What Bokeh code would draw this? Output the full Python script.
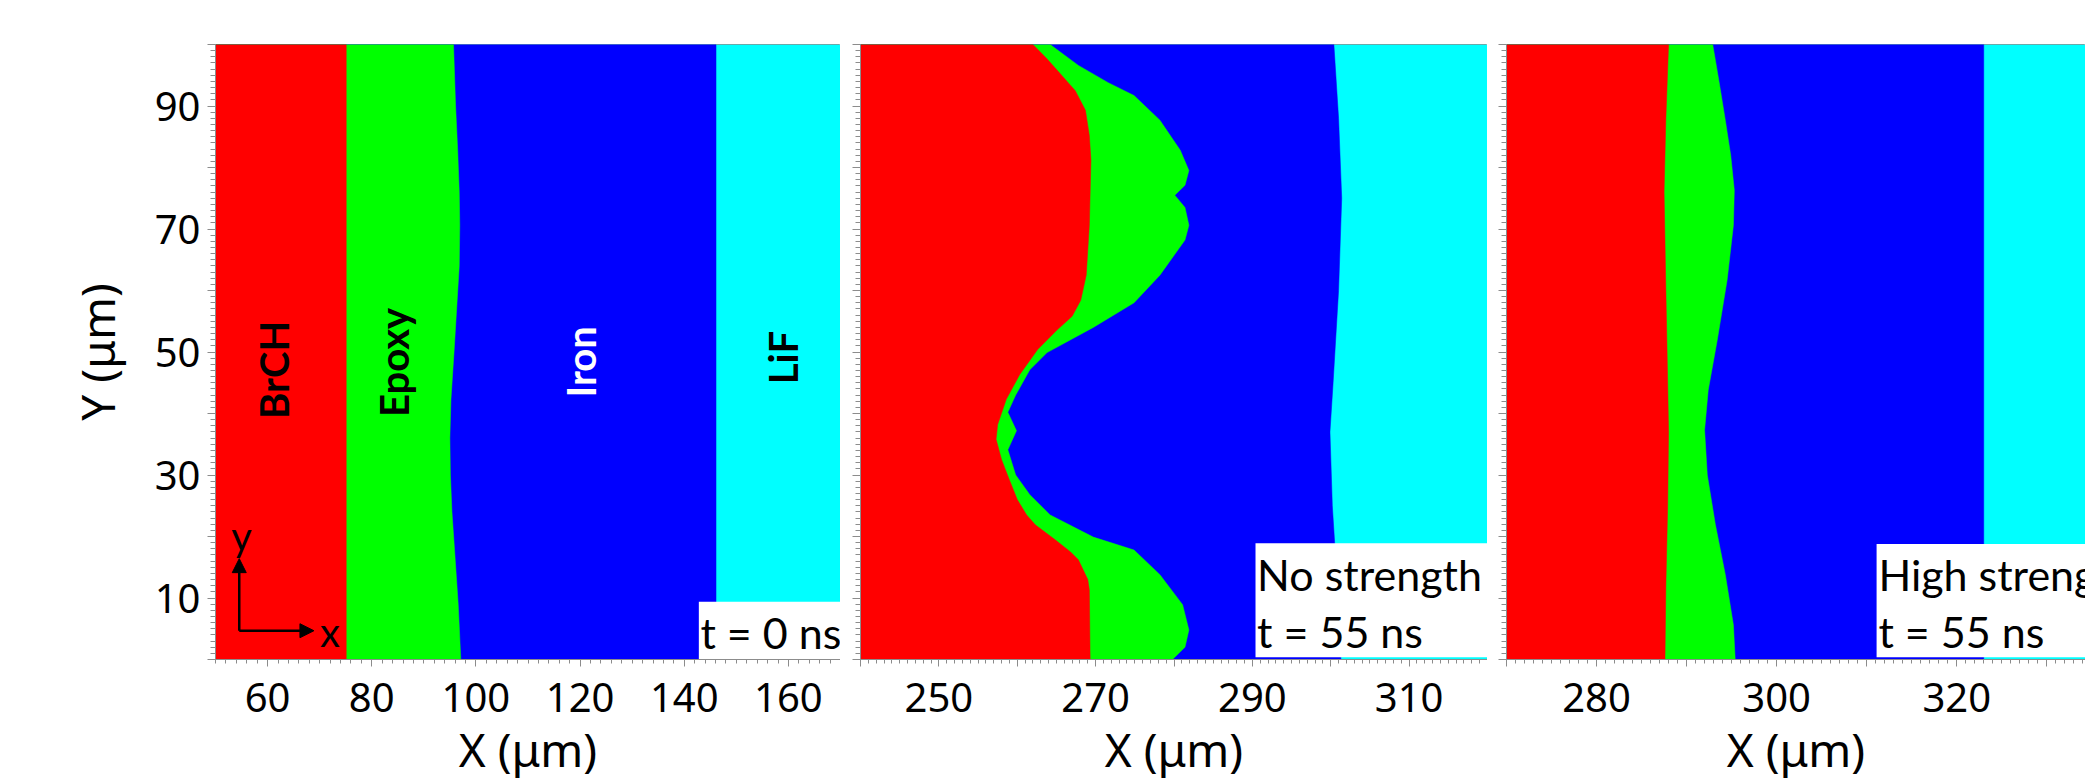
from bokeh.plotting import figure
from bokeh.layouts import row
from bokeh.models import (Range1d, FixedTicker, Arrow, NormalHead,
                          CustomJSTickFormatter, ColumnDataSource)
from bokeh.core.properties import value
from bokeh.embed import file_html
from bokeh.resources import INLINE

# ---------------- data ----------------
RED, GREEN, BLUE, CYAN = "#FF0000", "#00FF00", "#0000FF", "#00FFFF"

# Panel 1: t = 0 ns  (interface x positions, listed from y=100 down to y=0)
p1_xrange = (50, 170)
p1_red_y = [100, 0]
p1_red_x = [75.1, 75.1]
p1_green_y = [100, 90, 82.8, 76, 70.6, 64, 58.4, 50, 42.2, 36, 30.0, 24, 17.8, 9, 0]
p1_green_x = [95.7, 96.1, 96.5, 96.8, 96.9, 96.8, 96.4, 95.8, 95.2, 95.0, 95.1, 95.4, 95.9, 96.6, 97.1]
p1_blue_y = [100, 0]
p1_blue_x = [146.1, 146.1]

# Panel 2: No strength, t = 55 ns
p2_xrange = (240, 320)
p2_red_y = [100, 97.8, 95.8, 92.5, 89.3, 85.2, 81.2, 70.6, 62.5, 58.4, 55.8, 53.6, 50.4, 46.3,
            42.3, 38.2, 35.8, 32.5, 29.2, 26.0, 23.5, 21.9, 19.5, 17.5, 16.2, 13.0, 11.3, 0]
p2_red_x = [262.0, 263.7, 265.1, 267.4, 268.7, 269.2, 269.4, 269.2, 268.8, 268.1, 267.0, 265.1, 262.6, 260.3,
            258.6, 257.5, 257.3, 258.0, 259.0, 260.0, 261.2, 262.3, 264.8, 266.8, 267.8, 269.0, 269.2, 269.3]
p2_green_y = [100, 96.6, 93.8, 91.7, 87.7, 82.8, 79.5, 77.1, 75.5, 73.5, 70.6, 68.2, 62.5,
              58.0, 54.0, 49.9, 47.1, 43.0, 40.2, 37.2, 34.1, 30.0, 26.8, 23.5, 19.9, 17.8,
              13.8, 8.9, 4.8, 2.0, 0]
p2_green_x = [264.2, 267.8, 271.6, 274.9, 278.2, 280.8, 281.9, 281.4, 280.1, 281.4, 281.9, 281.4, 278.2,
              274.9, 269.7, 263.8, 261.6, 259.8, 258.8, 259.9, 258.8, 259.8, 261.6, 264.2, 269.7, 274.9,
              278.2, 281.1, 281.9, 281.4, 279.8]
p2_blue_y = [100, 88, 75, 60, 45, 37, 25, 19, 0]
p2_blue_x = [300.4, 301.0, 301.4, 301.0, 300.3, 299.9, 300.2, 300.5, 301.3]

# Panel 3: High strength, t = 55 ns
p3_xrange = (270, 334.3)
p3_red_y = [100, 88, 76, 60, 45, 37, 25, 12, 0]
p3_red_x = [288.0, 287.7, 287.5, 287.7, 287.9, 288.0, 287.9, 287.7, 287.6]
p3_green_y = [100, 94, 87.7, 82, 76.3, 70.6, 61.7, 51.9, 43.8, 37.3, 30.0, 21.9, 13.8, 5.6, 0]
p3_green_x = [292.9, 293.6, 294.3, 294.9, 295.3, 295.2, 294.5, 293.4, 292.4, 292.0, 292.3, 293.2, 294.3, 295.2, 295.4]
p3_blue_y = [100, 0]
p3_blue_x = [323.0, 323.0]

# Material labels (panel 1)
mat_names = ["BrCH", "Epoxy", "Iron", "LiF"]
mat_x = [61.2, 84.3, 120.1, 159.0]
mat_y = [47.1, 48.3, 48.4, 49.1]
mat_colors = ["black", "black", "white", "black"]

# Coordinate-system arrows (panel 1)
arrow_origin = (54.56, 4.68)
arrow_y_tip = 16.4
arrow_x_tip = 68.9
arrow_labels = ["y", "x"]
arrow_label_x = [55.0, 72.0]
arrow_label_y = [20.1, 4.4]

# Info boxes
box_left = [142.8, 290.4, 311.1]
box_right = [170, 320, 340]
box_top = [9.4, 18.9, 18.8]
box_bottom = [0, 0.35, 0.35]
box_text_x = [143.1, 290.6, 311.3]
box_lines = [["t = 0 ns"], ["No strength", "t = 55 ns"], ["High strength", "t = 55 ns"]]
box_line_y = [[2.2], [11.5, 2.3], [11.5, 2.3]]
BASELINE_SHIFT = 2.25   # compensates the renderer's baseline offset (layout only)

# Ticks
p1_xticks = [60, 80, 100, 120, 140, 160]
p1_xminor = list(range(50, 171, 2))
p2_xticks = list(range(240, 321, 10))
p2_xlabels = [250, 270, 290, 310]
p3_xticks = list(range(270, 341, 10))
p3_xlabels = [280, 300, 320, 340]
yticks = list(range(0, 101, 10))
ylabels = [10, 30, 50, 70, 90]

TICK_FONT = "Noto Sans"
TXT_FONT = "Lato"
GRAY = "#8c8c8c"
FIG_H = 782


def make_fig(xr, width, left_border, show_ylabels):
    p = figure(width=width, height=FIG_H, x_range=Range1d(*xr), y_range=Range1d(0, 100),
               output_backend="svg", toolbar_location=None,
               min_border_left=left_border, min_border_right=0,
               min_border_top=44, min_border_bottom=FIG_H - 44 - 615)
    p.grid.visible = False
    p.outline_line_color = GRAY
    p.outline_line_width = 1
    p.background_fill_color = "white"
    p.border_fill_color = "white"
    for ax in (p.xaxis[0], p.yaxis[0]):
        ax.axis_line_color = GRAY
        ax.major_tick_line_color = GRAY
        ax.minor_tick_line_color = GRAY
        ax.major_tick_in = 0
        ax.minor_tick_in = 0
        ax.major_label_text_font = TICK_FONT
        ax.major_label_text_font_size = "40px"
        ax.major_label_text_color = "black"
    p.xaxis.major_tick_out = 7
    p.xaxis.minor_tick_out = 4
    p.yaxis.major_tick_out = 8
    p.yaxis.minor_tick_out = 5
    p.xaxis.major_label_standoff = 16
    p.yaxis.major_label_standoff = 7
    p.xaxis.axis_label = "X (μm)"
    p.xaxis.axis_label_text_font = TICK_FONT
    p.xaxis.axis_label_text_font_size = "46px"
    p.xaxis.axis_label_text_font_style = "normal"
    p.xaxis.axis_label_text_color = "black"
    p.xaxis.axis_label_standoff = 3
    p.yaxis.ticker = FixedTicker(ticks=yticks, minor_ticks=list(range(0, 101, 1)))
    if show_ylabels:
        p.yaxis.major_label_overrides = {t: (str(t) if t in ylabels else "") for t in yticks}
        p.yaxis.axis_label = "Y (μm)"
        p.yaxis.axis_label_text_font = TICK_FONT
        p.yaxis.axis_label_text_font_size = "46px"
        p.yaxis.axis_label_text_font_style = "normal"
        p.yaxis.axis_label_text_color = "black"
        p.yaxis.axis_label_standoff = 24
    else:
        p.yaxis.formatter = CustomJSTickFormatter(code="return ''")
    return p


def draw_layers(p, xr, red, green, blue):
    xmin, xmax = xr
    p.quad(left=[xmin], right=[xmax], bottom=[0], top=[100], color=CYAN, line_width=0)
    for (ey, ex), col in ((blue, BLUE), (green, GREEN), (red, RED)):
        xs = [xmin] + list(ex) + [xmin]
        ys = [ey[0]] + list(ey) + [ey[-1]]
        p.patch(xs, ys, fill_color=col, line_color=col, line_width=0.5)


def draw_box(p, i):
    p.quad(left=[box_left[i]], right=[box_right[i]], top=[box_top[i]], bottom=[box_bottom[i]],
           color="white", line_width=0)
    n = len(box_lines[i])
    p.text(x=[box_text_x[i]] * n, y=[v + BASELINE_SHIFT for v in box_line_y[i]], text=box_lines[i],
           text_font=value(TXT_FONT), text_font_size="43px", text_color="black",
           text_align="left", text_baseline="alphabetic")


# ---------------- panel 1 ----------------
p1 = make_fig(p1_xrange, 840, 215, True)
p1.xaxis.ticker = FixedTicker(ticks=p1_xticks, minor_ticks=p1_xminor)
draw_layers(p1, p1_xrange, (p1_red_y, p1_red_x), (p1_green_y, p1_green_x), (p1_blue_y, p1_blue_x))
src = ColumnDataSource(dict(x=mat_x, y=mat_y, t=mat_names, c=mat_colors))
p1.text(x="x", y="y", text="t", text_color="c", source=src, angle=1.5708,
        text_font=value(TXT_FONT), text_font_size="40px", text_font_style="bold",
        text_align="center", text_baseline="middle")
head = dict(size=14, fill_color="black", line_color="black")
p1.add_layout(Arrow(end=NormalHead(**head), x_start=arrow_origin[0], y_start=arrow_origin[1],
                    x_end=arrow_origin[0], y_end=arrow_y_tip, line_width=2.5, line_color="black"))
p1.add_layout(Arrow(end=NormalHead(**head), x_start=arrow_origin[0], y_start=arrow_origin[1],
                    x_end=arrow_x_tip, y_end=arrow_origin[1], line_width=2.5, line_color="black"))
p1.text(x=arrow_label_x, y=arrow_label_y, text=arrow_labels, text_font=value(TXT_FONT),
        text_font_size="40px", text_color="black", text_align="center", text_baseline="middle")
draw_box(p1, 0)

# ---------------- panel 2 ----------------
p2 = make_fig(p2_xrange, 647, 20, False)
p2.xaxis.ticker = FixedTicker(ticks=p2_xticks, minor_ticks=list(range(240, 321, 1)))
p2.xaxis.major_label_overrides = {t: (str(t) if t in p2_xlabels else "") for t in p2_xticks}
draw_layers(p2, p2_xrange, (p2_red_y, p2_red_x), (p2_green_y, p2_green_x), (p2_blue_y, p2_blue_x))
draw_box(p2, 1)

# ---------------- panel 3 ----------------
p3 = make_fig(p3_xrange, 598, 19, False)
p3.xaxis.ticker = FixedTicker(ticks=p3_xticks, minor_ticks=list(range(270, 341, 1)))
p3.xaxis.major_label_overrides = {t: (str(t) if t in p3_xlabels else "") for t in p3_xticks}
draw_layers(p3, (270, 340), (p3_red_y, p3_red_x), (p3_green_y, p3_green_x), (p3_blue_y, p3_blue_x))
draw_box(p3, 2)

layout = row(p1, p2, p3, spacing=0)
open("out.html", "w").write(file_html(layout, INLINE))
